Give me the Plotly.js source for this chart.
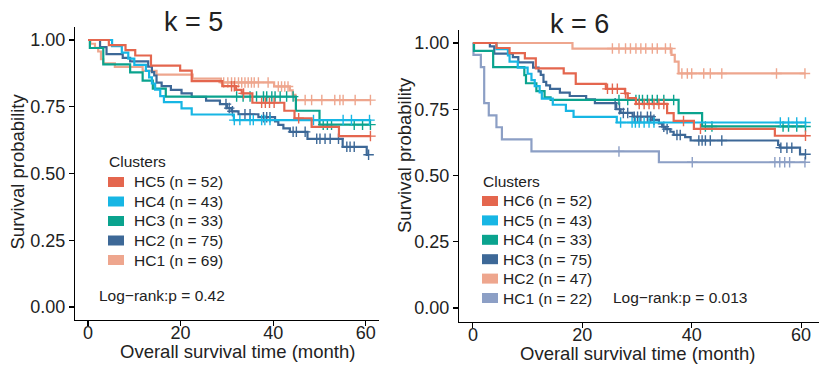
<!DOCTYPE html>
<html>
<head>
<meta charset="utf-8">
<script src="https://cdn.plot.ly/plotly-3.0.1.min.js"></script>
<style>html,body{margin:0;padding:0;background:#fff;}#chart{width:819px;height:365px;}</style>
</head>
<body>
<div id="chart"></div>
<script>
// ---------------- DATA ----------------
// k = 5 panel
const k5_names = ['HC5 (n = 52)', 'HC4 (n = 43)', 'HC3 (n = 33)', 'HC2 (n = 75)', 'HC1 (n = 69)'];
const k5_hc5_time = [0, 4.5, 8.1, 10.2, 13.6, 19.9, 22.4, 29.0, 32.0, 33.2, 35.5, 42.4, 44.6, 48.3, 54.2, 61.0];
const k5_hc5_surv = [1, 0.981, 0.962, 0.942, 0.904, 0.885, 0.846, 0.827, 0.813, 0.800, 0.765, 0.735, 0.707, 0.675, 0.640, 0.640];
const k5_hc5_cens = [31.0, 31.6, 33.6, 37.5, 38.3, 39.2, 40.2, 45.5, 61.0];

const k5_hc4_time = [0, 5.2, 7.3, 8.7, 10.0, 12.5, 13.2, 13.8, 14.5, 15.6, 16.4, 20.2, 22.4, 31.5, 61.0];
const k5_hc4_surv = [1, 0.977, 0.953, 0.930, 0.907, 0.884, 0.860, 0.837, 0.814, 0.790, 0.767, 0.744, 0.721, 0.700, 0.700];
const k5_hc4_cens = [31.6, 32.8, 35.0, 35.7, 37.5, 38.2, 39.3, 48.7, 55.1, 56.9, 60.8];

const k5_hc3_time = [0, 0.4, 3.3, 9.1, 11.8, 14.0, 16.8, 44.9, 50.0, 61.0];
const k5_hc3_surv = [1, 0.970, 0.909, 0.879, 0.848, 0.818, 0.788, 0.735, 0.683, 0.683];
const k5_hc3_cens = [32.1, 33.5, 35.0, 36.4, 37.9, 38.6, 39.7, 40.4, 41.5, 42.9, 44.3, 50.8, 51.7, 52.6, 57.5, 59.3, 61.0];

const k5_hc2_time = [0, 2.6, 4.0, 7.5, 9.1, 13.0, 13.8, 14.3, 14.8, 15.9, 17.9, 20.2, 22.4, 25.5, 28.5, 30.0, 31.0, 32.5, 36.8, 40.4, 41.1, 42.2, 43.6, 47.4, 55.0, 60.2, 60.6];
const k5_hc2_surv = [1, 0.973, 0.947, 0.933, 0.920, 0.900, 0.880, 0.867, 0.840, 0.827, 0.813, 0.800, 0.787, 0.773, 0.760, 0.745, 0.733, 0.722, 0.711, 0.695, 0.682, 0.669, 0.656, 0.630, 0.600, 0.570, 0.570];
const k5_hc2_cens = [29.8, 30.5, 31.2, 33.9, 35.0, 37.9, 38.6, 39.3, 44.3, 45.0, 46.9, 49.4, 50.1, 51.2, 52.3, 54.1, 55.9, 56.6, 57.5, 60.6];

const k5_hc1_time = [0, 0.5, 1.5, 2.2, 2.8, 3.3, 5.8, 11.8, 14.8, 22.6, 28.7, 40.2, 43.6, 44.2, 44.8, 61.0];
const k5_hc1_surv = [1, 0.986, 0.971, 0.957, 0.928, 0.913, 0.899, 0.884, 0.870, 0.855, 0.841, 0.826, 0.811, 0.795, 0.775, 0.775];
const k5_hc1_cens = [29.3, 30.2, 31.0, 31.7, 32.5, 33.2, 33.9, 34.6, 35.3, 35.9, 36.8, 38.9, 41.1, 41.8, 42.5, 43.2, 46.9, 48.3, 50.5, 53.3, 54.4, 55.1, 57.7, 61.0];

// k = 6 panel
const k6_names = ['HC6 (n = 52)', 'HC5 (n = 43)', 'HC4 (n = 33)', 'HC3 (n = 75)', 'HC2 (n = 47)', 'HC1 (n = 22)'];
const k6_hc6_time = [0, 4.3, 6.7, 9.5, 11.5, 16.6, 18.8, 24.3, 27.8, 28.3, 29.8, 35.5, 36.7, 40.4, 55.2, 60.8];
const k6_hc6_surv = [1, 0.981, 0.962, 0.942, 0.904, 0.885, 0.846, 0.827, 0.810, 0.792, 0.770, 0.735, 0.706, 0.676, 0.650, 0.650];
const k6_hc6_cens = [24.6, 25.5, 26.4, 27.9, 30.4, 31.3, 32.2, 33.1, 34.0, 34.9, 38.5, 41.6, 60.8];

const k6_hc5_time = [0, 4.3, 6.4, 6.7, 8.2, 10.0, 10.7, 11.3, 12.2, 12.6, 14.6, 17.0, 18.4, 26.3, 60.8];
const k6_hc5_surv = [1, 0.977, 0.953, 0.930, 0.907, 0.884, 0.860, 0.837, 0.814, 0.790, 0.767, 0.744, 0.721, 0.700, 0.700];
const k6_hc5_cens = [27.0, 29.1, 29.7, 30.4, 31.3, 32.2, 33.1, 56.2, 57.7, 59.2, 60.8];

const k6_hc4_time = [0, 0.2, 3.7, 9.4, 9.7, 11.6, 13.1, 14.2, 37.6, 41.9, 60.8];
const k6_hc4_surv = [1, 0.970, 0.909, 0.879, 0.848, 0.818, 0.795, 0.785, 0.735, 0.685, 0.685];
const k6_hc4_cens = [26.7, 28.3, 29.8, 30.4, 31.0, 31.9, 32.8, 33.7, 34.9, 36.7, 42.5, 43.7, 56.7, 57.7, 59.2, 60.8];

const k6_hc3_time = [0, 3.1, 3.9, 7.3, 8.3, 11.0, 12.0, 12.4, 12.9, 13.4, 14.1, 15.9, 17.7, 20.7, 22.3, 26.2, 27.0, 29.2, 32.8, 34.0, 34.6, 35.2, 36.1, 36.7, 38.8, 39.8, 55.8, 56.1, 59.8, 60.8];
const k6_hc3_surv = [1, 0.987, 0.960, 0.947, 0.927, 0.907, 0.893, 0.880, 0.853, 0.840, 0.827, 0.813, 0.800, 0.787, 0.773, 0.750, 0.736, 0.722, 0.710, 0.697, 0.684, 0.675, 0.665, 0.653, 0.645, 0.632, 0.615, 0.605, 0.580, 0.580];
const k6_hc3_cens = [26.0, 26.8, 27.5, 28.3, 29.5, 30.1, 30.7, 31.9, 32.5, 33.1, 34.9, 35.5, 37.3, 37.9, 41.3, 41.9, 42.5, 43.4, 45.5, 56.3, 57.4, 58.3, 60.8];

const k6_hc2_time = [0, 18.2, 36.3, 36.9, 37.6, 60.8];
const k6_hc2_surv = [1, 0.979, 0.955, 0.930, 0.885, 0.885];
const k6_hc2_cens = [25.5, 26.7, 27.9, 28.8, 29.8, 30.7, 31.6, 32.8, 33.7, 35.2, 36.1, 38.2, 39.2, 40.0, 42.2, 43.4, 45.5, 55.5, 60.7];

const k6_hc1_time = [0, 0.1, 1.45, 2.06, 2.9, 4.3, 5.3, 10.7, 34.0, 60.8];
const k6_hc1_surv = [1, 0.955, 0.909, 0.773, 0.727, 0.682, 0.636, 0.591, 0.550, 0.550];
const k6_hc1_cens = [26.7, 40.1, 55.2, 56.1, 57.0, 57.9, 60.7];

const yTicks = [0, 0.25, 0.5, 0.75, 1];
const xTicks = [0, 20, 40, 60];
const xLabel = 'Overall survival time (month)';
const yLabel = 'Survival probability';
const pLeft = 'Log\u2212rank:p = 0.42';
const pRight = 'Log\u2212rank:p = 0.013';

// ---------------- STYLE ----------------
const W = 819, H = 365;
const FONT = 'Liberation Sans, Arial, Helvetica, sans-serif';
const TXT = '#222222';
const C = {red: '#E4664E', cyan: '#17B6E4', teal: '#0AA38E', navy: '#3D6897', salmon: '#EEA68E', slate: '#8C9FC5'};

const k5_series = [
  {name: k5_names[0], t: k5_hc5_time, s: k5_hc5_surv, c: k5_hc5_cens, col: C.red},
  {name: k5_names[1], t: k5_hc4_time, s: k5_hc4_surv, c: k5_hc4_cens, col: C.cyan},
  {name: k5_names[2], t: k5_hc3_time, s: k5_hc3_surv, c: k5_hc3_cens, col: C.teal},
  {name: k5_names[3], t: k5_hc2_time, s: k5_hc2_surv, c: k5_hc2_cens, col: C.navy},
  {name: k5_names[4], t: k5_hc1_time, s: k5_hc1_surv, c: k5_hc1_cens, col: C.salmon}
];
const k6_series = [
  {name: k6_names[0], t: k6_hc6_time, s: k6_hc6_surv, c: k6_hc6_cens, col: C.red},
  {name: k6_names[1], t: k6_hc5_time, s: k6_hc5_surv, c: k6_hc5_cens, col: C.cyan},
  {name: k6_names[2], t: k6_hc4_time, s: k6_hc4_surv, c: k6_hc4_cens, col: C.teal},
  {name: k6_names[3], t: k6_hc3_time, s: k6_hc3_surv, c: k6_hc3_cens, col: C.navy},
  {name: k6_names[4], t: k6_hc2_time, s: k6_hc2_surv, c: k6_hc2_cens, col: C.salmon},
  {name: k6_names[5], t: k6_hc1_time, s: k6_hc1_surv, c: k6_hc1_cens, col: C.slate}
];

function stepAt(t, times, surv) {
  let v = surv[0];
  for (let i = 0; i < times.length; i++) { if (times[i] <= t) v = surv[i]; }
  return v;
}

const traces = [];
function addSeries(list, xa, ya) {
  list.slice().reverse().forEach(sr => {
    traces.push({type: 'scatter', mode: 'lines', x: sr.t, y: sr.s, xaxis: xa, yaxis: ya,
      line: {shape: 'hv', color: sr.col, width: 2.2}, name: sr.name, showlegend: false, hoverinfo: 'skip'});
    traces.push({type: 'scatter', mode: 'markers', x: sr.c, y: sr.c.map(t => stepAt(t, sr.t, sr.s)),
      xaxis: xa, yaxis: ya, marker: {symbol: 'cross-thin', size: 7.5, color: sr.col, line: {color: sr.col, width: 1.4}},
      name: sr.name + ' censored', showlegend: false, hoverinfo: 'skip', cliponaxis: false});
  });
}
addSeries(k5_series, 'x', 'y');
addSeries(k6_series, 'x2', 'y2');

const px = v => v / W, py = v => 1 - v / H;

const axisCommon = {
  showline: true, linecolor: '#000', linewidth: 1.1, ticks: 'outside', ticklen: 5, tickwidth: 1.1, tickcolor: '#000',
  showgrid: false, zeroline: false, tickfont: {family: FONT, size: 18, color: TXT}, fixedrange: true
};

const annotations = [];
const shapes = [];
function txt(text, cx, cy, size, anchor, angle) {
  annotations.push({text: text, xref: 'paper', yref: 'paper', x: px(cx), y: py(cy), xanchor: anchor || 'center', yanchor: 'middle',
    showarrow: false, textangle: angle || 0, font: {family: FONT, size: size, color: TXT}});
}
function legend(list, x0, yTitle, yRows, textX) {
  txt('Clusters', x0 - 1, yTitle, 15.5, 'left');
  list.forEach((sr, i) => {
    const yc = yRows[0] + i * yRows[1];
    shapes.push({type: 'rect', xref: 'paper', yref: 'paper', x0: px(x0), x1: px(x0 + 16), y0: py(yc - 5), y1: py(yc + 5),
      fillcolor: sr.col, line: {width: 0}});
    txt(sr.name, textX - 1, yc, 15.5, 'left');
  });
}
// panel titles
txt('k = 5', 193, 22, 27);
txt('k = 6', 579, 24, 27);
// axis titles
txt(xLabel, 237, 351, 18.5);
txt(xLabel, 637, 353, 18.5);
txt(yLabel, 16.5, 172, 18.5, 'center', -90);
txt(yLabel, 405, 155, 18.5, 'center', -90);
// legends & p-values
legend(k5_series, 108, 161, [182, 19.5], 133);
legend(k6_series, 482, 181, [201, 19.4], 502);
txt(pLeft, 97, 295, 15.5, 'left');
txt(pRight, 611, 297, 15.5, 'left');

const layout = {
  width: W, height: H, margin: {l: 0, r: 0, t: 0, b: 0}, paper_bgcolor: '#fff', plot_bgcolor: '#fff',
  showlegend: false, font: {family: FONT, color: TXT},
  xaxis: Object.assign({}, axisCommon, {domain: [75 / W, 379 / W], range: [-2.81, 62.85], tickvals: xTicks, anchor: 'y', ticklabelstandoff: -9}),
  yaxis: Object.assign({}, axisCommon, {domain: [45 / H, 338 / H], range: [-0.0487, 1.0487], tickvals: yTicks, tickformat: '.2f', anchor: 'x'}),
  xaxis2: Object.assign({}, axisCommon, {domain: [459 / W, 1], range: [-2.545, 63.27], tickvals: xTicks, anchor: 'y2', ticklabelstandoff: -9}),
  yaxis2: Object.assign({}, axisCommon, {domain: [43 / H, 335 / H], range: [-0.0528, 1.049], tickvals: yTicks, tickformat: '.2f', anchor: 'x2'}),
  annotations: annotations, shapes: shapes
};

Plotly.newPlot('chart', traces, layout, {staticPlot: true, displayModeBar: false});
</script>
</body>
</html>
